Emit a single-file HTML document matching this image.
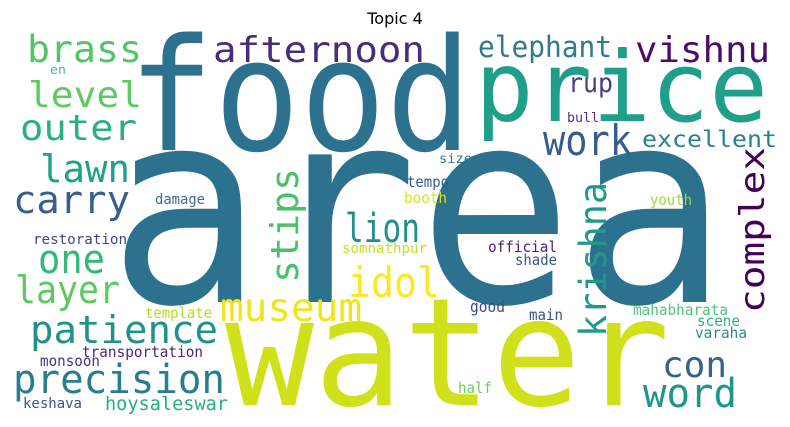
<!DOCTYPE html>
<html><head><meta charset="utf-8"><style>
html,body{margin:0;padding:0;background:#fff;}
svg{display:block;}
text{font-family:"DejaVu Sans Mono","Liberation Mono",monospace;}
.t{font-family:"DejaVu Sans","Liberation Sans",sans-serif;}
</style></head><body>
<svg width="790" height="427" viewBox="0 0 790 427">
<text class="t" x="395" y="24" font-size="16" text-anchor="middle" fill="#000">Topic 4</text>
<g>
<text x="108" y="302" font-size="270" textLength="620" lengthAdjust="spacingAndGlyphs" fill="#2c728e">area</text>
<text x="128" y="150" font-size="156" textLength="344" lengthAdjust="spacingAndGlyphs" fill="#2c728e">food</text>
<text x="475" y="121" font-size="97" textLength="293" lengthAdjust="spacingAndGlyphs" fill="#1f9e89">price</text>
<text x="225" y="405" font-size="150" textLength="445" lengthAdjust="spacingAndGlyphs" fill="#d0e11c">water</text>
<text x="27" y="62" font-size="37" textLength="115" lengthAdjust="spacingAndGlyphs" fill="#52c569">brass</text>
<text x="50" y="74" font-size="12" textLength="16" lengthAdjust="spacingAndGlyphs" fill="#4ab3a8">en</text>
<text x="28" y="107" font-size="36" textLength="114" lengthAdjust="spacingAndGlyphs" fill="#5ec962">level</text>
<text x="20" y="140" font-size="36" textLength="117" lengthAdjust="spacingAndGlyphs" fill="#2ab07f">outer</text>
<text x="40" y="182" font-size="38" textLength="90" lengthAdjust="spacingAndGlyphs" fill="#1fa187">lawn</text>
<text x="13" y="213" font-size="38" textLength="117" lengthAdjust="spacingAndGlyphs" fill="#355f8d">carry</text>
<text x="38" y="273" font-size="40" textLength="67" lengthAdjust="spacingAndGlyphs" fill="#35b779">one</text>
<text x="15" y="303" font-size="38" textLength="105" lengthAdjust="spacingAndGlyphs" fill="#5ec962">layer</text>
<text x="30" y="343" font-size="38" textLength="188" lengthAdjust="spacingAndGlyphs" fill="#21918c">patience</text>
<text x="13" y="393" font-size="40" textLength="212" lengthAdjust="spacingAndGlyphs" fill="#287d8e">precision</text>
<text x="213" y="62" font-size="36" textLength="212" lengthAdjust="spacingAndGlyphs" fill="#472d7b">afternoon</text>
<text x="478" y="57" font-size="29" textLength="134" lengthAdjust="spacingAndGlyphs" fill="#2f7a8d">elephant</text>
<text x="635" y="62" font-size="36" textLength="135" lengthAdjust="spacingAndGlyphs" fill="#4b0c6b">vishnu</text>
<text x="568" y="92" font-size="27" textLength="45" lengthAdjust="spacingAndGlyphs" fill="#433e85">rup</text>
<text x="567" y="122" font-size="13" textLength="32" lengthAdjust="spacingAndGlyphs" fill="#5a2d82">bull</text>
<text x="543" y="155" font-size="42" textLength="89" lengthAdjust="spacingAndGlyphs" fill="#365c8d">work</text>
<text x="642" y="147" font-size="23" textLength="135" lengthAdjust="spacingAndGlyphs" fill="#26828e">excellent</text>
<text x="439" y="163" font-size="13" textLength="33" lengthAdjust="spacingAndGlyphs" fill="#2a788e">size</text>
<text transform="translate(764,313) rotate(-90)" x="0" y="0" font-size="34" textLength="166" lengthAdjust="spacingAndGlyphs" fill="#440154">complex</text>
<text transform="translate(606,337) rotate(-90)" x="0" y="0" font-size="37" textLength="155" lengthAdjust="spacingAndGlyphs" fill="#1f9a8a">krishna</text>
<text transform="translate(298,283) rotate(-90)" x="0" y="0" font-size="38" textLength="115" lengthAdjust="spacingAndGlyphs" fill="#4ac16d">stips</text>
<text x="345" y="242" font-size="40" textLength="75" lengthAdjust="spacingAndGlyphs" fill="#21908d">lion</text>
<text x="342" y="253" font-size="14" textLength="85" lengthAdjust="spacingAndGlyphs" fill="#c2df23">somnathpur</text>
<text x="348" y="297" font-size="42" textLength="92" lengthAdjust="spacingAndGlyphs" fill="#fde725">idol</text>
<text x="220" y="321" font-size="39" textLength="142" lengthAdjust="spacingAndGlyphs" fill="#efe51c">museum</text>
<text x="145" y="318" font-size="15" textLength="67" lengthAdjust="spacingAndGlyphs" fill="#b5de2b">template</text>
<text x="82" y="357" font-size="15" textLength="121" lengthAdjust="spacingAndGlyphs" fill="#482878">transportation</text>
<text x="40" y="366" font-size="15" textLength="60" lengthAdjust="spacingAndGlyphs" fill="#46327e">monsoon</text>
<text x="23" y="408" font-size="14" textLength="59" lengthAdjust="spacingAndGlyphs" fill="#3b528b">keshava</text>
<text x="105" y="410" font-size="19" textLength="123" lengthAdjust="spacingAndGlyphs" fill="#27ad81">hoysaleswar</text>
<text x="155" y="204" font-size="14" textLength="50" lengthAdjust="spacingAndGlyphs" fill="#3e6e8e">damage</text>
<text x="33" y="244" font-size="14" textLength="94" lengthAdjust="spacingAndGlyphs" fill="#414487">restoration</text>
<text x="662" y="377" font-size="36" textLength="65" lengthAdjust="spacingAndGlyphs" fill="#33638d">con</text>
<text x="643" y="407" font-size="40" textLength="94" lengthAdjust="spacingAndGlyphs" fill="#1f958b">word</text>
<text x="458" y="393" font-size="15" textLength="34" lengthAdjust="spacingAndGlyphs" fill="#6ccd5a">half</text>
<text x="488" y="252" font-size="15" textLength="69" lengthAdjust="spacingAndGlyphs" fill="#482173">official</text>
<text x="515" y="265" font-size="15" textLength="42" lengthAdjust="spacingAndGlyphs" fill="#3a548c">shade</text>
<text x="470" y="312" font-size="16" textLength="35" lengthAdjust="spacingAndGlyphs" fill="#3e4989">good</text>
<text x="529" y="320" font-size="15" textLength="34" lengthAdjust="spacingAndGlyphs" fill="#39558c">main</text>
<text x="633" y="315" font-size="15" textLength="95" lengthAdjust="spacingAndGlyphs" fill="#4fc27e">mahabharata</text>
<text x="697" y="326" font-size="15" textLength="43" lengthAdjust="spacingAndGlyphs" fill="#2db27d">scene</text>
<text x="695" y="338" font-size="15" textLength="52" lengthAdjust="spacingAndGlyphs" fill="#2a8a8c">varaha</text>
<text x="650" y="205" font-size="15" textLength="42" lengthAdjust="spacingAndGlyphs" fill="#a0da39">youth</text>
<text x="407" y="187" font-size="15" textLength="42" lengthAdjust="spacingAndGlyphs" fill="#3b5a8c">tempo</text>
<text x="404" y="203" font-size="15" textLength="43" lengthAdjust="spacingAndGlyphs" fill="#d8e219">booth</text>
</g>
</svg>
</body></html>
